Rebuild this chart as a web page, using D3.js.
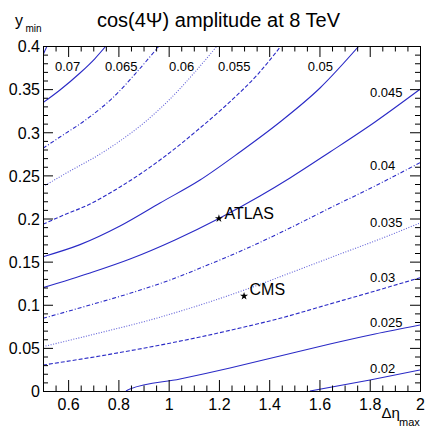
<!DOCTYPE html>
<html><head><meta charset="utf-8">
<script src="https://cdn.jsdelivr.net/npm/d3@7"></script>
<style>
html,body{margin:0;padding:0;background:#fff;}
svg{display:block;font-family:"Liberation Sans",Arial,Helvetica,sans-serif;}
</style></head><body>
<svg id="c" width="425" height="429"></svg>
<script>
// ---- data ----
const levels = [0.075, 0.07, 0.065, 0.06, 0.055, 0.05, 0.045, 0.04, 0.035, 0.03, 0.025, 0.02];
const levelLabels = ["", "0.07", "0.065", "0.06", "0.055", "0.05", "0.045", "0.04", "0.035", "0.03", "0.025", "0.02"];
const c075 = [[0.5,0.3896],[0.516,0.4]];
const c070 = [[0.5,0.3343],[0.5676,0.3490],[0.6472,0.3687],[0.7069,0.3855],[0.7507,0.4]];
const c065 = [[0.5,0.2814],[0.5676,0.2945],[0.6751,0.3154],[0.7745,0.3391],[0.8700,0.3687],[0.9615,0.4]];
const c060 = [[0.5,0.2369],[0.6074,0.2551],[0.7149,0.2725],[0.8064,0.2899],[0.9058,0.3119],[1.0053,0.3385],[1.1048,0.3699],[1.1923,0.4]];
const c055 = [[0.5,0.1933],[0.5676,0.2021],[0.6870,0.2168],[0.8064,0.2365],[0.9655,0.2678],[1.1247,0.3049],[1.2560,0.3386],[1.3555,0.3675],[1.4470,0.4]];
const c050 = [[0.5,0.1557],[0.6472,0.1697],[0.8064,0.1913],[0.9655,0.2180],[1.1247,0.2446],[1.2838,0.2771],[1.4430,0.3119],[1.6021,0.3513],[1.7573,0.4]];
const c045 = [[0.5,0.1198],[0.6870,0.1368],[0.8462,0.1530],[1.0252,0.1751],[1.2,0.2],[1.3634,0.2261],[1.4828,0.2470],[1.6419,0.2771],[1.8210,0.3119],[2.0,0.3498]];
const c040 = [[0.5,0.0843],[0.6870,0.0997],[0.8462,0.1133],[1.0053,0.1287],[1.1645,0.1472],[1.3236,0.1670],[1.4828,0.1890],[1.6419,0.2122],[1.8210,0.2377],[2.0,0.2647]];
const c035 = [[0.5,0.0514],[0.7069,0.0661],[0.9257,0.0823],[1.1247,0.0997],[1.3236,0.1194],[1.4828,0.1368],[1.6817,0.1588],[1.8409,0.1762],[2.0,0.1948]];
const c030 = [[0.5,0.0301],[0.7268,0.0406],[0.9257,0.0510],[1.1247,0.0626],[1.2838,0.0730],[1.4430,0.0843],[1.6419,0.1009],[1.8210,0.1159],[2.0,0.1314]];
const c025 = [[0.8302,0],[0.8462,0.0023],[1.0451,0.0139],[1.2440,0.0267],[1.4430,0.0406],[1.6419,0.0545],[1.8210,0.0661],[2.0,0.0765]];
const c020 = [[1.5623,0],[1.8011,0.0128],[2.0,0.0243]];
const contours = [c075, c070, c065, c060, c055, c050, c045, c040, c035, c030, c025, c020];

const experiments = ["ATLAS", "CMS"];
const expEta = [1.2, 1.3];
const expY = [0.2, 0.11];

const xTicks = [0.6, 0.8, 1, 1.2, 1.4, 1.6, 1.8, 2];
const xTickLabels = ["0.6", "0.8", "1", "1.2", "1.4", "1.6", "1.8", "2"];
const yTicks = [0, 0.05, 0.1, 0.15, 0.2, 0.25, 0.3, 0.35, 0.4];
const yTickLabels = ["0", "0.05", "0.1", "0.15", "0.2", "0.25", "0.3", "0.35", "0.4"];

// ---- layout / style ----
const M = {l:43, r:420, t:46, b:391};
const x = d3.scaleLinear().domain([0.5, 2]).range([M.l, M.r]);
const y = d3.scaleLinear().domain([0, 0.4]).range([M.b, M.t]);
const svg = d3.select("#c");

const styleOf = {
  solid:   {dash:null, color:"#2a2ac6"},
  dashed:  {dash:"4,2", color:"#2a2ac6"},
  dashdot: {dash:"4,2,1,2", color:"#2a2ac6"},
  dotted:  {dash:"1,1.6", color:"#6262d8"}
};
const levelStyle = ["solid","solid","dashdot","dotted","dashed","solid","solid","dashdot","dotted","dashed","solid","solid"];
// label anchor positions (data coords) for each level
const labelPos = [null,[0.5477,0.3714],[0.7467,0.3714],[1.0013,0.3714],[1.1963,0.3714],[1.5532,0.3714],
  [1.8011,0.3412],[1.8011,0.2562],[1.8011,0.1905],[1.8011,0.1260],[1.8011,0.0745],[1.8011,0.0205]];

svg.append("clipPath").attr("id","clip").append("rect")
  .attr("x", M.l).attr("y", M.t).attr("width", M.r - M.l).attr("height", M.b - M.t);

const line = d3.line().x(d => x(d[0])).y(d => y(d[1])).curve(d3.curveMonotoneX);
const gC = svg.append("g").attr("clip-path","url(#clip)");
contours.forEach((pts, i) => {
  const st = styleOf[levelStyle[i]];
  gC.append("path").attr("d", line(pts)).attr("fill","none")
    .attr("stroke", st.color).attr("stroke-width", 1.1)
    .attr("stroke-dasharray", st.dash);
});

// contour labels
levels.forEach((lv, i) => {
  if (!levelLabels[i]) return;
  svg.append("text").attr("x", x(labelPos[i][0])).attr("y", y(labelPos[i][1]))
    .attr("font-size", 13).attr("fill","#000").text(levelLabels[i]);
});

// axes
function styleAxis(g){ g.select(".domain").remove(); g.selectAll("line").attr("stroke","#000"); }
svg.append("g").attr("transform",`translate(0,${M.b})`)
  .call(d3.axisBottom(x).tickValues(xTicks).tickFormat((d,i)=>xTickLabels[i]).tickSizeInner(-11).tickSizeOuter(0).tickPadding(7.6))
  .call(styleAxis)
  .call(g => g.selectAll("text").attr("font-size",16).attr("font-family","Liberation Sans, Arial, sans-serif").attr("fill","#000"));
const xMinor = d3.range(0.55, 2.0, 0.05).filter(v => !xTicks.some(t => Math.abs(t - v) < 1e-6));
const yMinor = d3.range(0.01, 0.4, 0.01).filter(v => !yTicks.some(t => Math.abs(t - v) < 1e-6));
svg.append("g").attr("transform",`translate(0,${M.b})`)
  .call(d3.axisBottom(x).tickValues(xMinor).tickFormat("").tickSizeInner(-5.5).tickSizeOuter(0)).call(styleAxis);
svg.append("g").attr("transform",`translate(0,${M.t})`)
  .call(d3.axisTop(x).tickValues(xTicks).tickFormat("").tickSizeInner(-11).tickSizeOuter(0)).call(styleAxis);
svg.append("g").attr("transform",`translate(0,${M.t})`)
  .call(d3.axisTop(x).tickValues(xMinor).tickFormat("").tickSizeInner(-5.5).tickSizeOuter(0)).call(styleAxis);

svg.append("g").attr("transform",`translate(${M.l},0)`)
  .call(d3.axisLeft(y).tickValues(yTicks).tickFormat((d,i)=>yTickLabels[i]).tickSizeInner(-10).tickSizeOuter(0).tickPadding(3))
  .call(styleAxis)
  .call(g => g.selectAll("text").attr("font-size",16).attr("dy","0.36em").attr("font-family","Liberation Sans, Arial, sans-serif").attr("fill","#000"));
svg.append("g").attr("transform",`translate(${M.l},0)`)
  .call(d3.axisLeft(y).tickValues(yMinor).tickFormat("").tickSizeInner(-5).tickSizeOuter(0)).call(styleAxis);
svg.append("g").attr("transform",`translate(${M.r},0)`)
  .call(d3.axisRight(y).tickValues(yTicks).tickFormat("").tickSizeInner(-10).tickSizeOuter(0)).call(styleAxis);
svg.append("g").attr("transform",`translate(${M.r},0)`)
  .call(d3.axisRight(y).tickValues(yMinor).tickFormat("").tickSizeInner(-5).tickSizeOuter(0)).call(styleAxis);

// frame
svg.append("rect").attr("x", M.l + 0.5).attr("y", M.t + 0.5).attr("width", M.r - M.l).attr("height", M.b - M.t)
  .attr("fill","none").attr("stroke","#000").attr("stroke-width",1);

// experiment markers
const star = d3.symbol().type(d3.symbolStar).size(20);
experiments.forEach((name, i) => {
  svg.append("path").attr("d", star()).attr("transform",`translate(${x(expEta[i])},${y(expY[i])})`).attr("fill","#000");
  svg.append("text").attr("x", x(expEta[i]) + 5.5).attr("y", y(expY[i]) + (i === 0 ? 0 : -1))
    .attr("font-size",16).attr("fill","#000").text(name);
});

// title and axis titles
svg.append("text").attr("x", 218.5).attr("y", 27).attr("text-anchor","middle").attr("font-size",20).attr("fill","#000")
  .text("cos(4Ψ) amplitude at 8 TeV");
svg.append("text").attr("x", 15).attr("y", 26).attr("font-size",16).attr("fill","#000").text("y");
svg.append("text").attr("x", 25.5).attr("y", 32).attr("font-size",10).attr("fill","#000").text("min");
svg.append("text").attr("x", 381.5).attr("y", 418).attr("font-size",15).attr("fill","#000").text("Δη");
svg.append("text").attr("x", 399).attr("y", 426).attr("font-size",11).attr("fill","#000").text("max");
</script>
</body></html>
